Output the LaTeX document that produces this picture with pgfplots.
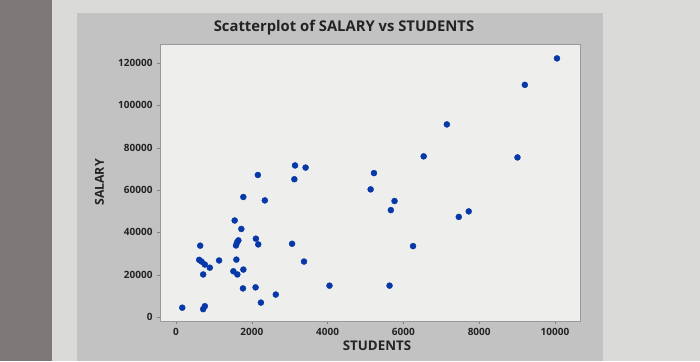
\documentclass[border=0pt]{standalone}
\usepackage{fontspec}
\setmainfont{Open Sans}
\usepackage{pgfplots}
\pgfplotsset{compat=1.18}
\definecolor{dotblue}{RGB}{6,56,168}
\definecolor{outerbg}{RGB}{218,219,216}
\definecolor{stripbg}{RGB}{126,121,120}
\definecolor{panelbg}{RGB}{194,194,194}
\definecolor{plotbg}{RGB}{238,238,237}
\definecolor{txt}{RGB}{35,35,35}
\begin{document}
\begin{tikzpicture}[x=1pt,y=1pt]
\useasboundingbox (0,0) rectangle (700,361);
\fill[outerbg] (0,0) rectangle (700,361);
\fill[stripbg] (0,0) rectangle (52,361);
\fill[panelbg] (77,0) rectangle (603,348);
\begin{axis}[
  at={(160pt,40pt)}, anchor=south west,
  scale only axis, width=420pt, height=277pt,
  xmin=-422, xmax=10660, ymin=-1900, ymax=129000,
  scaled ticks=false,
  xtick={0,2000,4000,6000,8000,10000},
  xticklabels={0,2000,4000,6000,8000,10000},
  ytick={0,20000,40000,60000,80000,100000,120000},
  yticklabels={0,20000,40000,60000,80000,100000,120000},
  tick label style={font=\bfseries\fontsize{10}{12}\selectfont, text=txt},
  tick align=outside, tick pos=left, major tick length=3pt,
  tick style={gray},
  axis line style={gray!80},
  axis background/.style={fill=plotbg},
  xticklabel style={yshift=-1pt},
  yticklabel style={xshift=-1pt},
]
\addplot[only marks, mark=*, mark size=3pt, mark options={fill=dotblue, draw=dotblue}] coordinates {
(165,4400) (717,3700) (761,5100) (638,33700) (612,27000) (674,26200)
(761,24800) (892,23300) (717,20100) (1137,26700) (1549,45600) (1776,56700)
(2344,55100) (1724,41600) (1645,36200) (1610,35200) (1583,33800) (1593,27100)
(1514,21600) (1619,20100) (1777,22400) (1767,13500) (2100,14000) (2240,6800)
(2633,10600) (2108,37000) (2170,34300) (3063,34600) (3378,26200) (4050,14800)
(2160,67100) (3141,71600) (3420,70600) (3123,65100) (5223,68000) (5136,60300)
(6535,75900) (10052,122200) (9204,109700) (7147,91000) (9010,75400) (5766,54800)
(5669,50500) (7462,47300) (7724,49900) (6255,33500) (5635,14800)
};
\end{axis}
\node[text=txt, font=\bfseries\fontsize{14.8}{17}\selectfont] at (344,333) {Scatterplot of SALARY vs STUDENTS};
\node[text=txt, font=\bfseries\fontsize{13.3}{15}\selectfont] at (377,15) {STUDENTS};
\node[text=txt, font=\bfseries\fontsize{12.3}{15}\selectfont, rotate=90] at (99.5,178.5) {SALARY};
\end{tikzpicture}
\end{document}
